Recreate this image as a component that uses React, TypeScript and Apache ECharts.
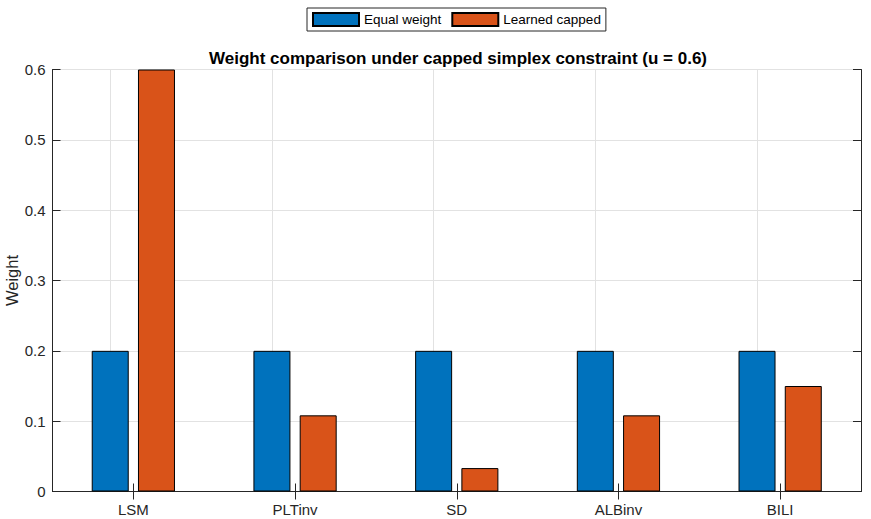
import React, { useEffect, useRef } from "react";
import * as echarts from "echarts";

const categories = ["LSM", "PLTinv", "SD", "ALBinv", "BILI"];
const equalWeight = [0.2, 0.2, 0.2, 0.2, 0.2];
const learnedCapped = [0.6, 0.1083, 0.0333, 0.1083, 0.15];
const seriesNames = ["Equal weight", "Learned capped"];
const titleText = "Weight comparison under capped simplex constraint (u = 0.6)";
const yName = "Weight";
const yMin = 0;
const yMax = 0.6;
const yStep = 0.1;

const FONT = "'Liberation Sans', Arial, Helvetica, sans-serif";
const AXIS = "#262626";
const GRID = "#e2e2e2";

export default function App() {
  const ref = useRef<HTMLDivElement>(null);
  useEffect(() => {
    document.body.style.margin = "0";
    const chart = echarts.init(ref.current!, null, { renderer: "svg" });
    const tickCommon = { show: true, inside: true, length: 8, lineStyle: { color: AXIS, width: 1 } };
    chart.setOption({
      animation: false,
      textStyle: { fontFamily: FONT },
      title: {
        text: titleText,
        left: 453,
        textAlign: "center",
        top: 45,
        textStyle: { fontSize: 17, fontWeight: "bold", color: "#000", fontFamily: FONT },
      },
      legend: {
        data: seriesNames,
        left: 307,
        top: 8,
        orient: "horizontal",
        icon: "rect",
        itemWidth: 46,
        itemHeight: 13,
        itemGap: 10,
        padding: [4, 5, 4, 5],
        borderColor: AXIS,
        borderWidth: 1,
        backgroundColor: "#fff",
        textStyle: { fontSize: 13.5, color: "#000", fontFamily: FONT },
      },
      grid: { left: 52.5, right: 10, top: 69.5, bottom: 27.5, containLabel: false, outerBoundsMode: "none" },
      xAxis: [
        {
          type: "category",
          data: categories,
          position: "bottom",
          axisLine: { show: true, lineStyle: { color: AXIS, width: 1 } },
          axisTick: { ...tickCommon, alignWithLabel: true },
          axisLabel: { fontSize: 15, color: AXIS, margin: 10, fontFamily: FONT },
          splitLine: { show: false },
        },
        {
          type: "category",
          data: categories,
          position: "top",
          axisLine: { show: true, lineStyle: { color: AXIS, width: 1 } },
          axisTick: { ...tickCommon, alignWithLabel: true },
          axisLabel: { show: false },
          splitLine: { show: false },
        },
      ],
      yAxis: [
        {
          type: "value",
          min: yMin,
          max: yMax,
          interval: yStep,
          position: "left",
          name: yName,
          nameLocation: "middle",
          nameGap: 32,
          nameMoveOverlap: false,
          nameTextStyle: { fontSize: 16.5, color: AXIS, fontFamily: FONT },
          axisLine: { show: true, lineStyle: { color: AXIS, width: 1 } },
          axisTick: tickCommon,
          axisLabel: { fontSize: 15, color: AXIS, margin: 7, fontFamily: FONT },
          splitLine: { show: true, lineStyle: { color: GRID, width: 1 } },
        },
        {
          type: "value",
          min: yMin,
          max: yMax,
          interval: yStep,
          position: "right",
          axisLine: { show: true, lineStyle: { color: AXIS, width: 1 } },
          axisTick: tickCommon,
          axisLabel: { show: false },
          splitLine: { show: false },
        },
      ],
      series: [
        {
          name: seriesNames[0],
          type: "bar",
          xAxisIndex: 0,
          yAxisIndex: 0,
          data: equalWeight,
          barWidth: 37,
          barGap: "25%",
          itemStyle: { color: "#0072BD", borderColor: "#000", borderWidth: 1 },
          markLine: {
            silent: true,
            symbol: ["none", "none"],
            label: { show: false },
            lineStyle: { color: GRID, width: 1, type: "solid" },
            data: categories.map((c) => ({ xAxis: c })),
            z: 0,
          },
        },
        {
          name: seriesNames[1],
          type: "bar",
          xAxisIndex: 0,
          yAxisIndex: 0,
          data: learnedCapped,
          barWidth: 37,
          barGap: "25%",
          itemStyle: { color: "#D95319", borderColor: "#000", borderWidth: 1 },
        },
      ],
    });
    return () => chart.dispose();
  }, []);
  return <div ref={ref} style={{ width: 871, height: 519 }} />;
}
